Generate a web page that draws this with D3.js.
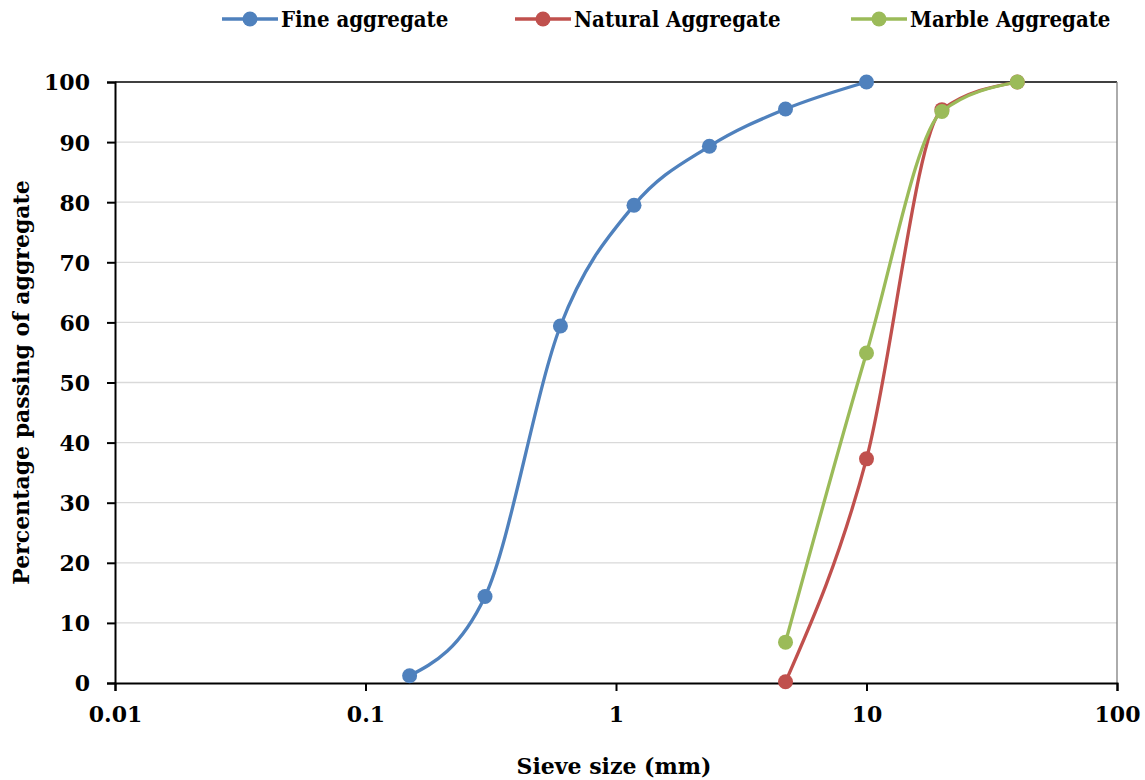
<!DOCTYPE html>
<html lang="en">
<head>
    <meta charset="UTF-8">
    <title>Sieve analysis</title>
    <script src="https://d3js.org/d3.v7.min.js"></script>
    <style>
        body { margin: 0; background: #fff; }
        text { font-family: "DejaVu Serif", serif; font-weight: bold; fill: #000; }
        .grid line { stroke: #d9d9d9; stroke-width: 1.3px; }
        .legend text { font-stretch: condensed; }
    </style>
</head>
<body>
    <svg id="chart" width="1145" height="780"></svg>

    <script>
        // sieve sizes (mm) and percentage passing
        const fineSizes = [0.15, 0.3, 0.6, 1.18, 2.36, 4.75, 10];
        const fineValues = [1.2, 14.4, 59.4, 79.5, 89.3, 95.5, 100];
        const coarseSizes = [4.75, 10, 20, 40];
        const naturalValues = [0.2, 37.3, 95.4, 100];
        const marbleValues = [6.8, 54.9, 95.1, 100];

        const xTicks = [0.01, 0.1, 1, 10, 100];
        const yTicks = [0, 10, 20, 30, 40, 50, 60, 70, 80, 90, 100];

        const series = [
            { name: "Fine aggregate", color: "#4F81BD", xs: fineSizes, ys: fineValues },
            { name: "Natural Aggregate", color: "#C0504D", xs: coarseSizes, ys: naturalValues },
            { name: "Marble Aggregate", color: "#9BBB59", xs: coarseSizes, ys: marbleValues }
        ];

        const svg = d3.select("#chart");
        const margin = { top: 82, right: 28, bottom: 97, left: 115 };
        const width = 1145 - margin.left - margin.right;
        const height = 780 - margin.top - margin.bottom;

        const x = d3.scaleLog().domain([0.01, 100]).range([0, width]);
        const y = d3.scaleLinear().domain([0, 100]).range([height, 0]);

        const g = svg.append("g")
            .attr("transform", `translate(${margin.left},${margin.top})`);

        // horizontal gridlines
        g.append("g").attr("class", "grid")
            .selectAll("line")
            .data(yTicks.filter(d => d > 0 && d < 100))
            .enter().append("line")
            .attr("x1", 0).attr("x2", width)
            .attr("y1", d => y(d)).attr("y2", d => y(d));

        // plot frame: top black, right grey
        g.append("line").attr("x1", 0).attr("x2", width).attr("y1", 0).attr("y2", 0)
            .attr("stroke", "#000").attr("stroke-width", 1.5);
        g.append("line").attr("x1", width).attr("x2", width).attr("y1", 0).attr("y2", height)
            .attr("stroke", "#7f7f7f").attr("stroke-width", 1.3);

        // axes
        const yAxis = g.append("g")
            .call(d3.axisLeft(y).tickValues(yTicks).tickSize(8).tickPadding(17));
        const xAxis = g.append("g")
            .attr("transform", `translate(0,${height})`)
            .call(d3.axisBottom(x).tickValues(xTicks).tickFormat(d => String(d)).tickSize(8).tickPadding(15));

        [xAxis, yAxis].forEach(a => {
            a.select(".domain").attr("stroke", "#000").attr("stroke-width", 2);
            a.selectAll(".tick line").attr("stroke", "#000").attr("stroke-width", 2);
            a.selectAll(".tick text").style("font-size", "22px").attr("fill", "#000");
        });
        yAxis.selectAll(".tick text").attr("dy", "0.36em");

        // series lines + markers
        const line = d3.line()
            .x(d => x(d[0]))
            .y(d => y(d[1]))
            .curve(d3.curveMonotoneX);

        series.forEach(s => {
            const pts = s.xs.map((v, i) => [v, s.ys[i]]);
            g.append("path")
                .datum(pts)
                .attr("fill", "none")
                .attr("stroke", s.color)
                .attr("stroke-width", 3.3)
                .attr("d", line);
            g.selectAll(null)
                .data(pts)
                .enter().append("circle")
                .attr("cx", d => x(d[0]))
                .attr("cy", d => y(d[1]))
                .attr("r", 7.5)
                .attr("fill", s.color);
        });

        // axis titles
        svg.append("text")
            .attr("x", margin.left + width / 2 - 2)
            .attr("y", 774)
            .attr("text-anchor", "middle")
            .style("font-size", "22px")
            .text("Sieve size (mm)");
        svg.append("text")
            .attr("transform", `translate(29,${margin.top + height / 2}) rotate(-90)`)
            .attr("text-anchor", "middle")
            .style("font-size", "22px")
            .text("Percentage passing of aggregate");

        // legend
        const legendX = [222, 515, 851];
        const legend = svg.append("g").attr("class", "legend");
        series.forEach((s, i) => {
            const lg = legend.append("g").attr("transform", `translate(${legendX[i]},19)`);
            lg.append("line").attr("x1", 0).attr("x2", 56).attr("y1", 0).attr("y2", 0)
                .attr("stroke", s.color).attr("stroke-width", 3.3);
            lg.append("circle").attr("cx", 28).attr("r", 7.5).attr("fill", s.color);
            lg.append("text").attr("x", 59).attr("dy", "0.36em")
                .style("font-size", "22px")
                .text(s.name);
        });
    </script>
</body>
</html>
